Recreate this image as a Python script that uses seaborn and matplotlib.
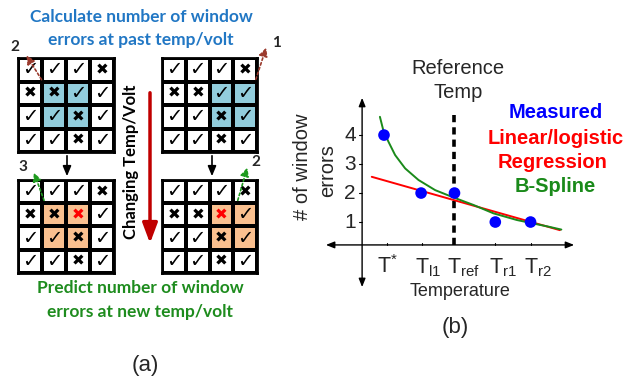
import numpy as np
import seaborn as sns
import matplotlib.pyplot as plt
from matplotlib.colors import ListedColormap

# ---- data ----
# panel (a): window grids, v = check, x = cross, r = red cross; 1 = shaded cell
grid_tl = ['vvvx', 'xxvv', 'vvxv', 'vvxv']
shade_tl = ['0000', '0110', '0110', '0000']
grid_tr = ['vvvx', 'xxvv', 'vvxv', 'vvxv']
shade_tr = ['0000', '0011', '0011', '0000']
grid_bl = ['vvvx', 'xxrv', 'vvxv', 'vvxv']
shade_bl = ['0000', '0110', '0110', '0000']
grid_br = ['vvvx', 'xxrv', 'vvxv', 'vvxv']
shade_br = ['0000', '0011', '0011', '0000']

# panel (b)
measured_t = [1.0, 2.0, 2.9, 4.0, 4.95]
measured_err = [4, 2, 2, 1, 1]
linear_t = [0.67, 5.74]
linear_err = [2.56, 0.72]
spline_t = [0.89, 0.98, 1.12, 1.30, 1.57, 1.93, 2.38, 2.83, 3.18, 3.41, 3.95, 4.58, 5.02, 5.4, 5.78]
spline_err = [4.63, 4.17, 3.77, 3.31, 2.85, 2.45, 2.10, 1.87, 1.70, 1.59, 1.30, 1.07, 0.95, 0.85, 0.74]
t_ticks = [1.1, 2.2, 3.15, 4.2, 5.15]
t_marks = [1.08, 2.02, 4.0, 4.95]
t_labels = ['T$^{*}$', 'T$_{l1}$', 'T$_{ref}$', 'T$_{r1}$', 'T$_{r2}$']
err_ticks = [1, 2, 3, 4]
tref = 2.9

sns.set_style('white')
plt.rcParams['font.family'] = ['Liberation Sans', 'DejaVu Sans']
plt.rcParams['mathtext.fontset'] = 'custom'
plt.rcParams['mathtext.rm'] = 'Liberation Sans'
plt.rcParams['mathtext.it'] = 'Liberation Sans'
plt.rcParams['mathtext.default'] = 'regular'

W, H = 640, 381
fig = plt.figure(figsize=(6.4, 3.81), dpi=100)


def px_axes(x0, y0, x1, y1):
    return fig.add_axes([x0 / W, 1 - y1 / H, (x1 - x0) / W, (y1 - y0) / H])


blue_cell = '#92cddc'
orange_cell = '#fac08f'
sym = {'v': '\u2713', 'x': '\u2716', 'r': '\u2716'}


def draw_grid(box, grid, shade, color):
    ax = px_axes(*box)
    vals = np.array([[int(c) for c in row] for row in shade])
    labels = np.array([[sym[c] for c in row] for row in grid])
    sns.heatmap(vals, ax=ax, cmap=ListedColormap(['white', color]), vmin=0, vmax=1,
                cbar=False, linewidths=1.6, linecolor='black', annot=labels, fmt='',
                xticklabels=False, yticklabels=False,
                annot_kws={'fontfamily': ['DejaVu Sans'], 'fontsize': 14, 'color': 'black'})
    for txt, c in zip(ax.texts, ''.join(grid)):
        if c == 'x' or c == 'r':
            txt.set_fontsize(11)
        if c == 'r':
            txt.set_color('#ff0000')
    for s in ax.spines.values():
        s.set_visible(True)
        s.set_linewidth(2)
        s.set_color('black')
    return ax


draw_grid((18, 58, 114, 152), grid_tl, shade_tl, blue_cell)
draw_grid((162, 58, 257, 152), grid_tr, shade_tr, blue_cell)
draw_grid((18, 180, 114, 273), grid_bl, shade_bl, orange_cell)
draw_grid((162, 180, 257, 273), grid_br, shade_br, orange_cell)

# overlay for annotations in pixel space
ov = fig.add_axes([0, 0, 1, 1], facecolor='none')
ov.set_xlim(0, W)
ov.set_ylim(H, 0)
ov.axis('off')

blue_txt = '#2177c4'
green_txt = '#1e8c1e'
bold_a = dict(fontfamily=['Lato', 'DejaVu Sans'], fontweight='bold', fontsize=12.5,
              ha='center', va='center')
ov.text(141, 17, 'Calculate number of window', color=blue_txt, **bold_a)
ov.text(141, 40, 'errors at past temp/volt', color=blue_txt, **bold_a)
ov.text(140, 288, 'Predict number of window', color=green_txt, **bold_a)
ov.text(140, 312, 'errors at new temp/volt', color=green_txt, **bold_a)
ov.text(131, 162, 'Changing Temp/Volt', rotation=90, color='black',
        fontfamily=['Lato', 'DejaVu Sans'], fontweight='bold', fontsize=12, ha='center', va='center')
ov.text(145, 366, '(a)', fontsize=16, ha='center', va='center')
ov.text(455, 327, '(b)', fontsize=16, ha='center', va='center')

# red changing arrow
ov.annotate('', xy=(150, 246), xytext=(150, 90),
            arrowprops=dict(arrowstyle='-|>,head_width=0.45,head_length=1.2', color='#c00000', lw=2.5))
# black arrows between grids
for x in (67, 212):
    ov.annotate('', xy=(x, 179), xytext=(x, 153),
                arrowprops=dict(arrowstyle='-|>,head_width=0.25,head_length=0.6', color='black', lw=1.2))
# dotted arrows with numbers
brown = '#9b3b2e'
green_arrow = '#1e9a1e'
for tail, tip, col, num, npos in [((43, 82), (25, 53), brown, '2', (15, 47)),
                                   ((255, 82), (267, 45), brown, '1', (276, 43)),
                                   ((45, 203), (33, 170), green_arrow, '3', (23, 167)),
                                   ((237, 203), (248, 165), green_arrow, '2', (256, 162))]:
    ov.annotate('', xy=tip, xytext=tail,
                arrowprops=dict(arrowstyle='-|>,head_width=0.25,head_length=0.5', color=col,
                                lw=1.2, linestyle=(0, (1.5, 1.5))))
    ov.text(npos[0], npos[1], num, fontfamily=['Lato', 'DejaVu Sans'], fontweight='bold',
            fontsize=11, ha='center', va='center')

# ---- panel (b) ----
axb = px_axes(320, 40, 640, 300)
axb.set_facecolor('none')
axb.set_xlim(-0.725, 7.9)
axb.set_ylim(-1.69, 7.28)
axb.axis('off')

# axes arrows
axb.annotate('', xy=(6.2, 0.21), xytext=(-0.64, 0.21),
             arrowprops=dict(arrowstyle='<|-|>,head_width=0.2,head_length=0.5', color='black', lw=1))
axb.annotate('', xy=(0.41, 5.38), xytext=(0.41, -1.34),
             arrowprops=dict(arrowstyle='<|-|>,head_width=0.2,head_length=0.5', color='black', lw=1))
for v in err_ticks:
    axb.plot([0.33, 0.41], [v, v], color='black', lw=0.8)
    axb.text(0.08, v, str(v), fontsize=15, ha='center', va='center')
for t in t_marks:
    axb.plot([t, t], [0.21, 0.29], color='black', lw=0.8)
for t, lab in zip(t_ticks, t_labels):
    axb.text(t, -0.76, lab, fontsize=15.5, ha='center', va='baseline')

axb.plot([tref, tref], [4.69, 0.14], color='black', lw=2.6, linestyle=(0, (2, 1.4)))
sns.lineplot(x=linear_t, y=linear_err, ax=axb, color='#ff0000', lw=1.4, sort=False)
sns.lineplot(x=spline_t, y=spline_err, ax=axb, color='#1a8a1a', lw=1.4, sort=False)
sns.scatterplot(x=measured_t, y=measured_err, ax=axb, color='#0000ff', s=70,
                edgecolor='none', zorder=5)

ov.text(458, 68, 'Reference', fontsize=14.5, ha='center', va='center')
ov.text(458, 93, 'Temp', fontsize=14.5, ha='center', va='center')
ov.text(556, 112, 'Measured', color='#0000ff', fontweight='bold', fontsize=14.5, ha='center', va='center')
ov.text(556, 138, 'Linear/logistic', color='#ff0000', fontweight='bold', fontsize=14.5, ha='center', va='center')
ov.text(553, 162, 'Regression', color='#ff0000', fontweight='bold', fontsize=14.5, ha='center', va='center')
ov.text(555, 187, 'B-Spline', color='#1a8a1a', fontweight='bold', fontsize=14.5, ha='center', va='center')
ov.text(302, 167, '# of window', rotation=90, fontsize=14.5, ha='center', va='center')
ov.text(328, 171, 'errors', rotation=90, fontsize=14.5, ha='center', va='center')
ov.text(460, 291, 'Temperature', fontsize=13, ha='center', va='center')

fig.savefig('out.png', dpi=100)
